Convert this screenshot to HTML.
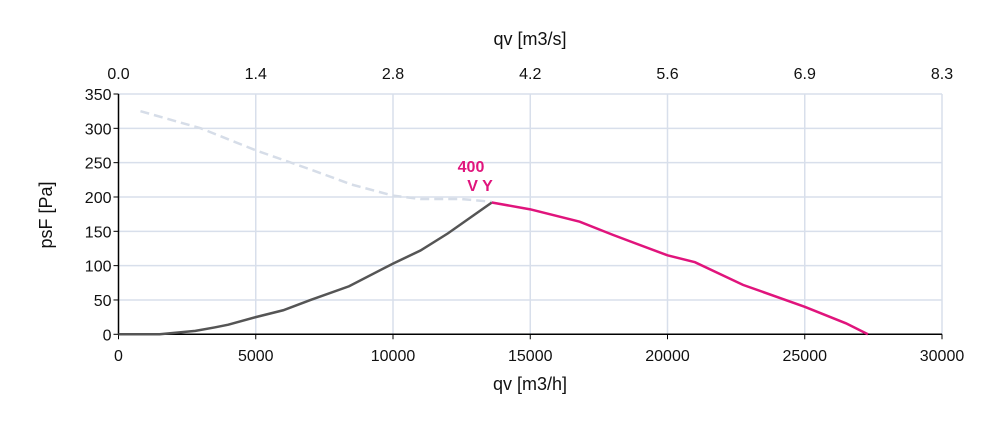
<!DOCTYPE html>
<html><head><meta charset="utf-8"><style>
body{margin:0;background:#fff;font-family:"Liberation Sans",sans-serif}
svg text{font-family:"Liberation Sans",sans-serif}
</style></head><body>
<svg id="chart" width="1000" height="420" viewBox="0 0 1000 420" xmlns="http://www.w3.org/2000/svg">
<g id="grid"></g>
<g id="axes"></g>
<g id="series"></g>
<text x="530" y="45" text-anchor="middle" font-size="18" fill="#111">qv [m3/s]</text>
<text x="530" y="390" text-anchor="middle" font-size="18" fill="#111">qv [m3/h]</text>
<text transform="translate(52,215) rotate(-90)" text-anchor="middle" font-size="18" fill="#111">psF [Pa]</text>
<text x="471" y="172" text-anchor="middle" font-size="16" font-weight="600" fill="#e0147c">400</text>
<text x="480" y="191" text-anchor="middle" font-size="16" font-weight="600" fill="#e0147c">V Y</text>
</svg>
<script>
const xTicks=[0,5000,10000,15000,20000,25000,30000];
const topTickLabels=["0.0","1.4","2.8","4.2","5.6","6.9","8.3"];
const yTicks=[0,50,100,150,200,250,300,350];
const dashedQ=[800,3000,5000,7000,8500,10000,11000,12500,13600];
const dashedP=[325,300,268,240,218,202,197,197,193];
const grayQ=[0,1500,2800,3500,4000,5000,6000,7000,8400,10000,11000,12000,13600];
const grayP=[0,0,5,10,14,25,35,50,70,103,122,147,192];
const pinkQ=[13600,15000,16800,18000,20000,21000,22750,25000,26500,27300];
const pinkP=[192,182,164,145,115,105,72,40,16,0];

const X0=118.5,X1=942,Y0=334.3,Y1=94;
const xs=v=>X0+(v-0)/(30000)*(X1-X0);
const ys=v=>Y0-(v/350)*(Y0-Y1);
const NS="http://www.w3.org/2000/svg";
function mk(t,a,p){const e=document.createElementNS(NS,t);for(const k in a)e.setAttribute(k,a[k]);p.appendChild(e);return e;}
const grid=document.getElementById('grid'),axes=document.getElementById('axes'),series=document.getElementById('series');
xTicks.forEach((v,i)=>{
  if(i>0){const l=mk('line',{x1:xs(v),x2:xs(v),y1:Y1,y2:Y0,stroke:'#d8dfeb','stroke-width':1.5},grid);
  
  }
  const t=mk('line',{x1:xs(v),x2:xs(v),y1:Y0,y2:Y0+5,stroke:'#000'},axes);
  
  
  const tx=mk('text',{x:xs(v),y:361,'text-anchor':'middle','font-size':16,fill:'#111'},axes);tx.textContent=v;
  
  
  const tt=mk('text',{x:xs(v),y:79,'text-anchor':'middle','font-size':16,fill:'#111'},axes);tt.textContent=topTickLabels[i];
  
  
});
yTicks.forEach(v=>{
  if(v>0){const l=mk('line',{x1:X0,x2:X1,y1:ys(v),y2:ys(v),stroke:'#d8dfeb','stroke-width':1.5},grid);
  
  }
  const t=mk('line',{x1:X0-5,x2:X0,y1:ys(v),y2:ys(v),stroke:'#000'},axes);
  
  
  const tx=mk('text',{x:X0-7,y:ys(v)+6,'text-anchor':'end','font-size':16,fill:'#111'},axes);tx.textContent=v;
  
  
});
const ax=mk('line',{x1:X0,x2:X0,y1:Y1,y2:Y0,stroke:'#000','stroke-width':1.5},axes);


const bx=mk('line',{x1:X0,x2:X1,y1:Y0,y2:Y0,stroke:'#000','stroke-width':1.5},axes);


const pts=(q,p)=>q.map((v,i)=>xs(v)+','+ys(p[i])).join(' ');
const d=mk('polyline',{points:pts(dashedQ,dashedP),fill:'none',stroke:'#d6dde8','stroke-width':2.5,'stroke-dasharray':'9,5'},series);


const g=mk('polyline',{points:pts(grayQ,grayP),fill:'none',stroke:'#555','stroke-width':2.5},series);


const p=mk('polyline',{points:pts(pinkQ,pinkP),fill:'none',stroke:'#e0147c','stroke-width':2.5},series);


</script>
</body></html>
